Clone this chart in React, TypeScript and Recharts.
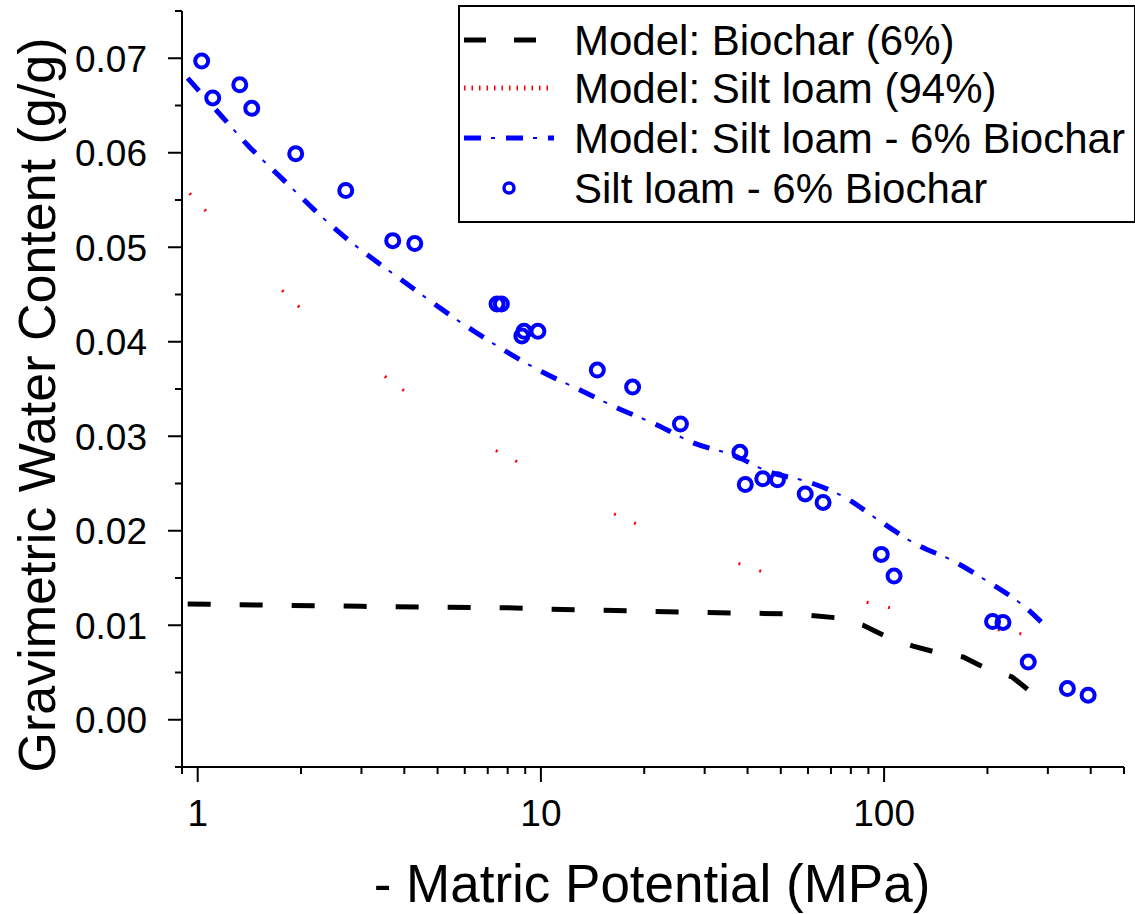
import { ComposedChart, Line, Scatter, XAxis, YAxis, Legend, Label } from 'recharts'

// - Matric potential (MPa) vs gravimetric water content (g/g)
const biocharX = [0.935, 3.0, 8.0, 10.5, 30, 55, 74.4, 86.9, 100.7, 121.5, 140.8, 170, 194.4, 236, 263]
const biocharY = [0.01225, 0.012, 0.01185, 0.0117, 0.01135, 0.0112, 0.01075, 0.01, 0.00885, 0.0078, 0.00717, 0.00664, 0.00559, 0.00453, 0.00316]

const siltX = [0.947, 1.034, 1.677, 2.39, 2.68, 5.54, 6.25, 7.02, 17.7, 27.8, 60.4, 268]
const siltY = [0.0557, 0.0542, 0.0462, 0.041, 0.0396, 0.0311, 0.0298, 0.0289, 0.0212, 0.0183, 0.0141, 0.0089]

const mixX = [0.935, 1.159, 1.399, 1.734, 2.56, 4.01, 6.33, 10.1, 13.0, 16.7, 21.8, 27.8, 36.3, 46.5, 60.9, 78.0, 97.4, 125, 159, 201, 254, 299]
const mixY = [0.0679, 0.0641, 0.0608, 0.0575, 0.0517, 0.0463, 0.0412, 0.0368, 0.0349, 0.033, 0.0312, 0.0293, 0.028, 0.0262, 0.0251, 0.0234, 0.021, 0.0185, 0.0168, 0.0146, 0.0121, 0.0097]

const obsX = [1.027, 1.106, 1.326, 1.437, 1.93, 2.7, 3.7, 4.29, 7.45, 7.67, 8.8, 8.93, 9.8, 14.6, 18.5, 25.5, 38.0, 39.4, 44.3, 48.9, 58.9, 66.4, 98.1, 106.9, 207, 222, 263, 342, 393]
const obsY = [0.0697, 0.0658, 0.0672, 0.0647, 0.0599, 0.056, 0.0507, 0.0504, 0.044, 0.044, 0.0406, 0.0411, 0.0411, 0.037, 0.0352, 0.0313, 0.0283, 0.0249, 0.0255, 0.0254, 0.0239, 0.023, 0.0175, 0.0152, 0.0104, 0.0103, 0.0061, 0.0033, 0.0026]

const xTicks = [0.9, 1, 2, 3, 4, 5, 6, 7, 8, 9, 10, 20, 30, 40, 50, 60, 70, 80, 90, 100, 200, 300, 400, 500]
const xMajor = [1, 10, 100]
const yTicks = [-0.005, 0, 0.005, 0.01, 0.015, 0.02, 0.025, 0.03, 0.035, 0.04, 0.045, 0.05, 0.055, 0.06, 0.065, 0.07, 0.075]

const zip = (xs: number[], ys: number[]) => xs.map((x, i) => ({ x, y: ys[i] }))

const biochar = zip(biocharX, biocharY)
const silt = zip(siltX, siltY)
const mix = zip(mixX, mixY)
const obs = zip(obsX, obsY)

const FONT = '"Liberation Sans", Arial, sans-serif'

function XTick(props: any) {
  const { x, y, payload } = props
  const major = xMajor.includes(payload.value)
  return (
    <g>
      <line x1={x} y1={y} x2={x} y2={y + (major ? 15 : 7)} stroke="#000" strokeWidth={2} />
      {major && (
        <text x={x} y={y + 59} textAnchor="middle" fontSize={37} fontFamily={FONT} fill="#000">
          {payload.value}
        </text>
      )}
    </g>
  )
}

function YTick(props: any) {
  const { x, y, payload } = props
  const v = payload.value
  const major = Math.abs(v * 100 - Math.round(v * 100)) < 1e-6 && v >= 0
  return (
    <g>
      <line x1={x} y1={y} x2={x - (major ? 14 : 7)} y2={y} stroke="#000" strokeWidth={2} />
      {major && (
        <text x={x - 35} y={y} dy="0.36em" textAnchor="end" fontSize={37} fontFamily={FONT} fill="#000">
          {v.toFixed(2)}
        </text>
      )}
    </g>
  )
}

function ObsCircle(props: any) {
  const { cx, cy } = props
  return <circle cx={cx} cy={cy} r={6.5} fill="none" stroke="#0000ff" strokeWidth={4} />
}

const rows = [
  'Model: Biochar (6%)',
  'Model: Silt loam (94%)',
  'Model: Silt loam - 6% Biochar',
  'Silt loam - 6% Biochar',
]
const rowY = [35, 83, 133, 183]

function LegendBox() {
  return (
    <svg width={680} height={220} style={{ display: 'block' }}>
      <rect x={1} y={1} width={676} height={216} fill="#fff" stroke="#000" strokeWidth={2} />
      <line x1={6} x2={96} y1={rowY[0]} y2={rowY[0]} stroke="#000" strokeWidth={5} strokeDasharray="22 28" />
      <line x1={6} x2={96} y1={rowY[1]} y2={rowY[1]} stroke="#ff0000" strokeWidth={5} strokeDasharray="1.5 6" />
      <line x1={6} x2={96} y1={rowY[2]} y2={rowY[2]} stroke="#0000ff" strokeWidth={5} strokeDasharray="17 25" />
      <line x1={6} x2={96} y1={rowY[2]} y2={rowY[2]} stroke="#0000ff" strokeWidth={2} strokeDasharray="0 27 4 11" />
      <circle cx={51} cy={rowY[3]} r={5} fill="none" stroke="#0000ff" strokeWidth={3.5} />
      {rows.map((r, i) => (
        <text key={r} x={116} y={rowY[i]} dy="0.36em" fontSize={42} fontFamily={FONT} fill="#000">
          {r}
        </text>
      ))}
    </svg>
  )
}

export default function App() {
  return (
    <div style={{ position: 'absolute', left: 0, top: 0, width: 1135, height: 914, background: '#fff' }}>
      <ComposedChart width={1135} height={914} margin={{ top: 11, right: 11, left: 0, bottom: 0 }}>
        <XAxis
          dataKey="x"
          type="number"
          scale="log"
          domain={[0.9, 500]}
          allowDataOverflow
          ticks={xTicks}
          interval={0}
          tickSize={0}
          tickMargin={0}
          tick={<XTick />}
          axisLine={{ stroke: '#000', strokeWidth: 2 }}
          height={147}
        >
          <Label
            content={() => (
              <text x={652} y={902} textAnchor="middle" fontSize={53} fontFamily={FONT} fill="#000">
                - Matric Potential (MPa)
              </text>
            )}
          />
        </XAxis>
        <YAxis
          dataKey="y"
          type="number"
          domain={[-0.005, 0.075]}
          allowDataOverflow
          ticks={yTicks}
          interval={0}
          tickSize={0}
          tickMargin={0}
          tick={<YTick />}
          axisLine={{ stroke: '#000', strokeWidth: 2 }}
          width={182}
        >
          <Label
            content={() => (
              <text
                x={55}
                y={405}
                transform="rotate(-90 55 405)"
                textAnchor="middle"
                fontSize={52}
                fontFamily={FONT}
                fill="#000"
              >
                Gravimetric Water Content (g/g)
              </text>
            )}
          />
        </YAxis>
        <Legend
          layout="vertical"
          align="center"
          verticalAlign="middle"
          content={() => <LegendBox />}
          wrapperStyle={{ left: 458, top: 5, width: 680, height: 220 }}
        />
        <Line
          data={biochar}
          dataKey="y"
          type="linear"
          stroke="#000"
          strokeWidth={5}
          strokeDasharray="23 29"
          dot={false}
          activeDot={false}
          isAnimationActive={false}
        />
        <Line
          data={silt}
          dataKey="y"
          type="monotone"
          stroke="#ff0000"
          strokeWidth={3}
          strokeDasharray="2 20 2 110"
          dot={false}
          activeDot={false}
          isAnimationActive={false}
        />
        {/* dash-dot drawn as heavy dashes plus thin dots, as in the original */}
        <Line
          data={mix}
          dataKey="y"
          type="monotone"
          stroke="#0000ff"
          strokeWidth={5}
          strokeDasharray="17 25"
          dot={false}
          activeDot={false}
          isAnimationActive={false}
        />
        <Line
          data={mix}
          dataKey="y"
          type="monotone"
          stroke="#0000ff"
          strokeWidth={2}
          strokeDasharray="0 27 4 11"
          dot={false}
          activeDot={false}
          isAnimationActive={false}
        />
        <Scatter data={obs} dataKey="y" shape={<ObsCircle />} isAnimationActive={false} />
      </ComposedChart>
    </div>
  )
}
